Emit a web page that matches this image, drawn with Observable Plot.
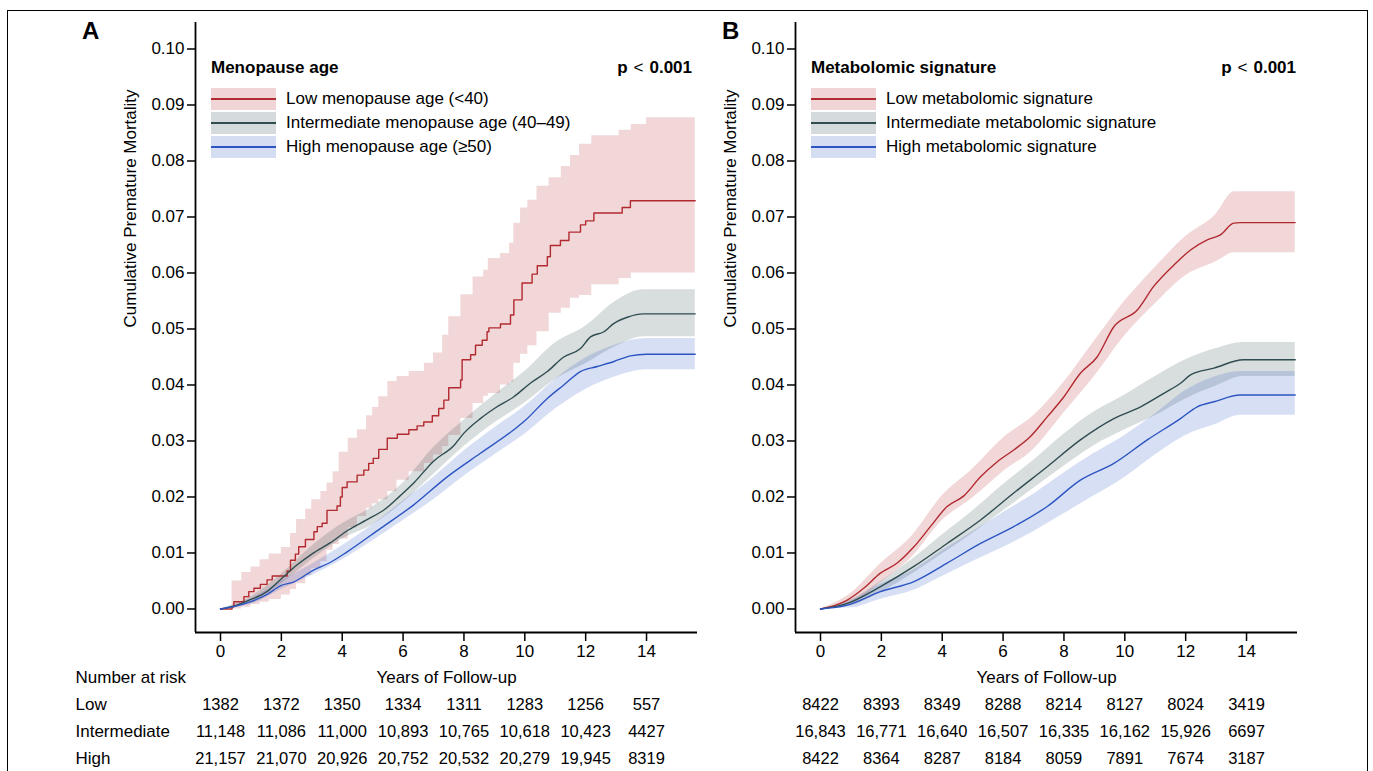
<!DOCTYPE html>
<html>
<head>
<meta charset="utf-8">
<script src="https://cdn.jsdelivr.net/npm/d3@7"></script>
<script src="https://cdn.jsdelivr.net/npm/@observablehq/plot@0.6"></script>
<style>
  body { margin: 0; background: white; }
  #root { position: relative; width: 1373px; height: 771px; overflow: hidden; background: white;
          font-family: 'Liberation Sans', Arial, sans-serif; color: #000; }
  .abs { position: absolute; white-space: nowrap; }
  .panel { position: absolute; top: 0; width: 700px; height: 771px; }
  .sw { position: absolute; width: 65px; height: 22px; }
  .sw i { position: absolute; left: 0; right: 0; top: 10.4px; height: 1.3px; }
  .lt { font-size: 17px; line-height: 22px; }
</style>
</head>
<body>
<div id="root">
  <div class="abs" style="left:7px;top:10px;width:1361px;height:820px;border:1.4px solid #000;box-sizing:border-box"></div>
  <div id="pa" class="panel" style="left:0px"></div>
  <div id="pb" class="panel" style="left:600px"></div>
  <div id="legends"></div>
</div>
<script>
// ---------- axis ticks ----------
const xTicks = [0, 2, 4, 6, 8, 10, 12, 14];
const yTicks = [0, 0.01, 0.02, 0.03, 0.04, 0.05, 0.06, 0.07, 0.08, 0.09, 0.10];

// ---------- Panel A: menopause age ----------
// estimate lines [years, cumulative mortality]
const aLowLine = [[0,0],[0.38,0.0004],[0.44,0.0013],[0.77,0.0022],[0.93,0.0031],[1.1,0.0037],[1.31,0.0044],[1.53,0.0052],[1.7,0.0059],[2.19,0.0068],[2.3,0.0087],[2.46,0.0098],[2.57,0.0111],[2.79,0.0124],[3.07,0.0138],[3.18,0.0147],[3.34,0.0153],[3.5,0.0176],[3.83,0.0184],[3.94,0.0200],[4.0,0.0217],[4.16,0.0227],[4.49,0.0239],[4.71,0.0248],[4.87,0.026],[5.02,0.0269],[5.2,0.0285],[5.48,0.0305],[5.81,0.0312],[6.19,0.032],[6.46,0.0327],[6.68,0.0334],[6.96,0.0345],[7.17,0.0358],[7.34,0.0373],[7.5,0.0395],[7.89,0.0409],[7.94,0.0445],[8.22,0.0454],[8.38,0.0471],[8.6,0.048],[8.76,0.0495],[8.82,0.0502],[9.2,0.0509],[9.53,0.0525],[9.64,0.0552],[9.91,0.0582],[10.24,0.0598],[10.41,0.0613],[10.74,0.0629],[10.84,0.0649],[11.17,0.0658],[11.45,0.0673],[11.83,0.0686],[12.0,0.0693],[12.27,0.0707],[13.2,0.0717],[13.47,0.0729],[15.6,0.0729]];
const aIntLine = [[0,0],[0.5,0.0006],[1,0.0017],[1.5,0.003],[2,0.0054],[2.5,0.0078],[3,0.0098],[3.6,0.0118],[4.2,0.0141],[4.8,0.0159],[5.4,0.0178],[5.9,0.0202],[6.35,0.0225],[7.0,0.0264],[7.67,0.0292],[8.0,0.0314],[8.54,0.034],[9.0,0.0358],[9.64,0.0379],[10.2,0.0404],[10.74,0.0424],[11.28,0.045],[11.83,0.0465],[12.16,0.0486],[12.6,0.0495],[12.93,0.051],[13.37,0.0521],[13.9,0.0527],[15.6,0.0527]];
const aHighLine = [[0,0],[0.5,0.0005],[1,0.0013],[1.5,0.0025],[2,0.0042],[2.4,0.0048],[3.07,0.007],[3.6,0.0083],[4.16,0.0102],[5.26,0.0144],[6.35,0.0186],[7.45,0.0236],[8.54,0.0278],[9.64,0.032],[10.0,0.0336],[10.74,0.0376],[11.28,0.04],[11.83,0.0424],[12.38,0.0433],[12.93,0.0442],[13.47,0.0452],[14.0,0.0455],[15.6,0.0455]];
// confidence bands [years, lower, upper]
const aLowBand = [[0,0,0],[0.38,0,0.005],[0.7,0.0003,0.0065],[1.0,0.0008,0.0075],[1.3,0.0012,0.0088],[1.6,0.0017,0.0098],[2.0,0.0025,0.011],[2.3,0.0035,0.0135],[2.5,0.0045,0.016],[2.8,0.006,0.0178],[3.0,0.0072,0.0195],[3.3,0.0085,0.021],[3.5,0.0105,0.0225],[3.7,0.0115,0.0245],[3.9,0.0125,0.028],[4.2,0.0145,0.0305],[4.5,0.0165,0.032],[4.8,0.018,0.0345],[5.0,0.0188,0.036],[5.2,0.0195,0.0379],[5.5,0.021,0.0406],[5.8,0.023,0.0415],[6.2,0.0245,0.0424],[6.7,0.026,0.0439],[7.0,0.0275,0.0457],[7.3,0.029,0.0489],[7.5,0.031,0.0522],[7.9,0.034,0.0561],[8.3,0.0367,0.0593],[8.65,0.038,0.0605],[8.8,0.0385,0.0626],[9.2,0.040,0.0635],[9.5,0.0405,0.0653],[9.64,0.0439,0.0689],[9.86,0.0455,0.0716],[10.1,0.047,0.073],[10.4,0.0495,0.0755],[10.8,0.0528,0.077],[11.2,0.0537,0.079],[11.5,0.0555,0.081],[11.8,0.056,0.083],[12.2,0.0579,0.0845],[13.1,0.059,0.0855],[13.5,0.060,0.0865],[14.0,0.060,0.0877],[15.6,0.060,0.0877]];
const aIntBand = [[0,0,0],[1,0.0012,0.0022],[2,0.0045,0.0062],[3,0.0088,0.0112],[4,0.0125,0.0152],[5,0.015,0.0182],[6,0.019,0.0225],[7,0.024,0.0288],[8,0.029,0.0337],[9,0.0332,0.0382],[10,0.0368,0.0424],[11,0.041,0.0475],[12,0.0438,0.0505],[13,0.0469,0.055],[13.9,0.0486,0.057],[15.6,0.0486,0.057]];
const aHighBand = [[0,0,0],[1,0.0008,0.0018],[2,0.0035,0.005],[3,0.006,0.008],[4,0.0088,0.0113],[5,0.0122,0.015],[6,0.0158,0.0193],[7,0.0195,0.0235],[8,0.0237,0.0282],[9,0.0275,0.0323],[10,0.0312,0.0362],[11,0.0357,0.041],[12,0.0392,0.0448],[13,0.0415,0.0472],[14,0.0427,0.0483],[15.6,0.0427,0.0483]];
const aRiskLow = ["1382","1372","1350","1334","1311","1283","1256","557"];
const aRiskInt = ["11,148","11,086","11,000","10,893","10,765","10,618","10,423","4427"];
const aRiskHigh = ["21,157","21,070","20,926","20,752","20,532","20,279","19,945","8319"];
const aLegend = ["Low menopause age (<40)", "Intermediate menopause age (40–49)", "High menopause age (≥50)"];

// ---------- Panel B: metabolomic signature ----------
const bLowLine = [[0,0],[0.5,0.0007],[0.88,0.0016],[1.42,0.0037],[1.97,0.0064],[2.52,0.0082],[3.07,0.0111],[3.61,0.0147],[4.16,0.0183],[4.71,0.0202],[5.26,0.0236],[5.81,0.0263],[6.35,0.0284],[6.9,0.0308],[7.45,0.0343],[8.0,0.0379],[8.54,0.0421],[9.09,0.045],[9.64,0.0504],[10.41,0.0534],[10.95,0.0576],[11.61,0.0614],[12.16,0.0641],[12.71,0.0659],[13.14,0.0668],[13.58,0.0689],[13.8,0.069],[15.6,0.069]];
const bIntLine = [[0,0],[0.88,0.001],[1.97,0.004],[3.07,0.0076],[4.16,0.0117],[5.26,0.0159],[6.35,0.0207],[7.45,0.0254],[8.54,0.0302],[9.64,0.034],[10.52,0.0361],[11.28,0.0385],[11.83,0.0403],[12.16,0.0418],[12.93,0.043],[13.9,0.0445],[15.6,0.0445]];
const bHighLine = [[0,0],[0.88,0.0007],[1.97,0.0031],[3.07,0.0049],[4.16,0.0082],[5.26,0.0117],[6.35,0.0147],[7.45,0.0183],[8.54,0.023],[9.64,0.026],[10.74,0.0302],[11.83,0.034],[12.38,0.0361],[12.93,0.037],[13.8,0.0382],[15.6,0.0382]];
const bLowBand = [[0,0,0],[1,0.0008,0.0028],[2,0.0048,0.0082],[3,0.0092,0.013],[4,0.0158,0.0202],[5,0.0198,0.025],[6,0.0245,0.0305],[7,0.0285,0.0345],[8,0.035,0.0405],[9,0.0415,0.0478],[10,0.0488,0.055],[11,0.0545,0.061],[12,0.0595,0.0665],[13,0.062,0.0705],[13.6,0.0636,0.0745],[15.6,0.0636,0.0745]];
const bIntBand = [[0,0,0],[1,0.0006,0.0016],[2,0.003,0.005],[3,0.0062,0.0088],[4,0.0098,0.0132],[5,0.0135,0.0175],[6,0.0175,0.0222],[7,0.0215,0.0265],[8,0.0255,0.0312],[9,0.0292,0.0352],[10,0.032,0.0382],[11,0.0345,0.0415],[12,0.0375,0.0445],[13,0.0398,0.0465],[13.9,0.0415,0.0476],[15.6,0.0415,0.0476]];
const bHighBand = [[0,0,0],[1,0.0002,0.0014],[2,0.0018,0.0045],[3,0.0032,0.0068],[4,0.0058,0.0104],[5,0.0085,0.0138],[6,0.011,0.0172],[7,0.0138,0.0205],[8,0.017,0.0243],[9,0.0202,0.0278],[10,0.0235,0.031],[11,0.0275,0.0348],[12,0.031,0.039],[13,0.033,0.0415],[13.8,0.0346,0.0424],[15.6,0.0346,0.0424]];
const bRiskLow = ["8422","8393","8349","8288","8214","8127","8024","3419"];
const bRiskInt = ["16,843","16,771","16,640","16,507","16,335","16,162","15,926","6697"];
const bRiskHigh = ["8422","8364","8287","8184","8059","7891","7674","3187"];
const bLegend = ["Low metabolomic signature", "Intermediate metabolomic signature", "High metabolomic signature"];

const riskRowLabels = ["Number at risk", "Low", "Intermediate", "High"];
const colors = ["#b22a30", "#2f4c50", "#2c55c2"];

const xDomain = [-0.8216, 15.675];
const yDomain = [-0.0042, 0.10473];
const FONT = "'Liberation Sans', Arial, sans-serif";

function panel(lines, bands, curves, risks, withRowLabels) {
  const marks = [];
  bands.forEach((b, i) => marks.push(Plot.areaY(b, {x: d => d[0], y1: d => d[1], y2: d => d[2],
    curve: curves[i], fill: colors[i], fillOpacity: 0.19})));
  lines.forEach((l, i) => marks.push(Plot.line(l, {x: d => d[0], y: d => d[1],
    curve: curves[i], stroke: colors[i], strokeWidth: 1.4})));
  marks.push(
    Plot.ruleX([xDomain[0]], {stroke: "#000", strokeWidth: 1.8}),
    Plot.ruleY([yDomain[0]], {stroke: "#000", strokeWidth: 1.8}),
    Plot.axisY({ticks: yTicks, tickFormat: d3.format(".2f"), tickSize: 8, tickPadding: 3, label: null, fontSize: 17, strokeWidth: 1.5}),
    Plot.axisX({ticks: xTicks, tickFormat: d => String(d), tickSize: 9, tickPadding: 3, label: null, fontSize: 17, strokeWidth: 1.5}),
    Plot.text(["Years of Follow-up"], {frameAnchor: "bottom", dy: 50, fontSize: 17}),
    Plot.text(["Cumulative Premature Mortality"], {frameAnchor: "left", dx: -65, rotate: -90, fontSize: 17})
  );
  risks.forEach((r, k) => marks.push(Plot.text(xTicks, {x: d => d, text: (d, i) => r[i],
    frameAnchor: "bottom", dy: [77, 104, 131][k], fontSize: 16.5})));
  if (withRowLabels) {
    riskRowLabels.forEach((lab, k) => marks.push(Plot.text([lab], {frameAnchor: "bottom-left",
      textAnchor: "start", dx: -120, dy: [50, 77, 104, 131][k], fontSize: 17})));
  }
  return Plot.plot({
    width: 700, height: 771,
    marginLeft: 195, marginRight: 3, marginTop: 22, marginBottom: 139,
    x: {domain: xDomain}, y: {domain: yDomain},
    style: {background: "transparent", fontFamily: FONT, fontSize: "17px", color: "#000", overflow: "visible"},
    marks
  });
}

document.getElementById("pa").append(panel([aLowLine, aIntLine, aHighLine], [aLowBand, aIntBand, aHighBand],
  ["step-after", "monotone-x", "monotone-x"], [aRiskLow, aRiskInt, aRiskHigh], true));
document.getElementById("pb").append(panel([bLowLine, bIntLine, bHighLine], [bLowBand, bIntBand, bHighBand],
  ["monotone-x", "monotone-x", "monotone-x"], [bRiskLow, bRiskInt, bRiskHigh], false));

// ---------- legends & labels (HTML) ----------
function legend(off, letterLeft, pRight, letter, title, items) {
  const L = document.getElementById("legends");
  let h = `<div class="abs" style="left:${letterLeft}px;top:16px;font-size:24px;font-weight:bold;line-height:30px">${letter}</div>`;
  h += `<div class="abs" style="left:${211 + off}px;top:57px;font-size:17px;font-weight:bold;line-height:22px">${title}</div>`;
  h += `<div class="abs" style="left:${pRight - 100}px;width:100px;top:57px;font-size:17px;line-height:22px;text-align:right"><b>p</b><span style="margin:0 6px">&lt;</span><b>0.001</b></div>`;
  items.forEach((t, i) => {
    const top = 88 + i * 24;
    h += `<div class="sw" style="left:${211 + off}px;top:${top}px;background:${d3.color(colors[i]).copy({opacity: 0.2})}"><i style="background:${colors[i]}"></i></div>`;
    h += `<div class="abs lt" style="left:${286 + off}px;top:${top}px">${t.replace("<", "&lt;")}</div>`;
  });
  L.insertAdjacentHTML("beforeend", h);
}
legend(0, 82, 692, "A", "Menopause age", aLegend);
legend(600, 722, 1296, "B", "Metabolomic signature", bLegend);
</script>
</body>
</html>
